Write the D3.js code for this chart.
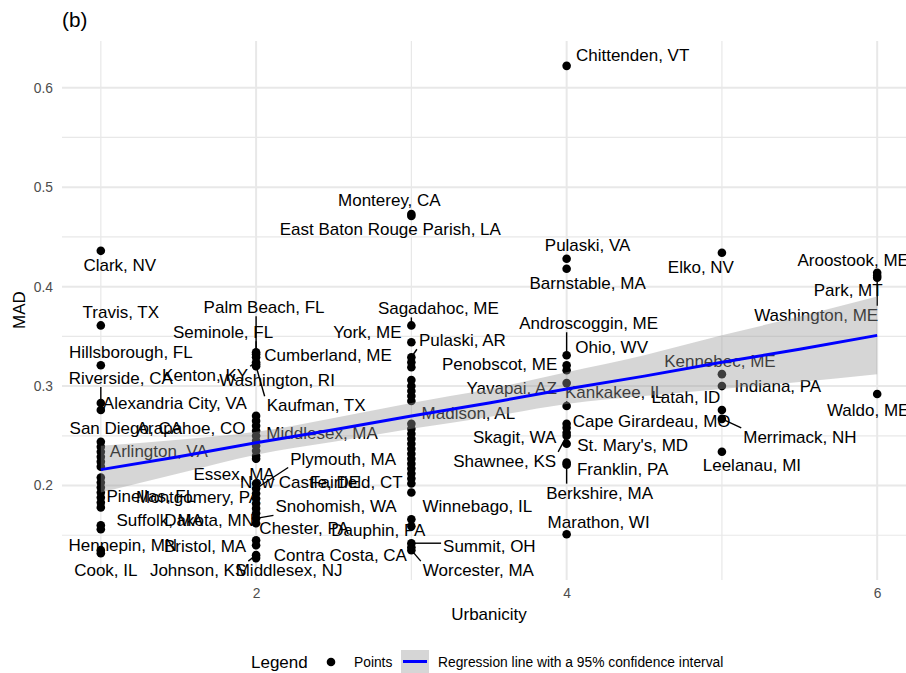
<!DOCTYPE html>
<html>
<head>
<meta charset="utf-8">
<script src="https://cdn.jsdelivr.net/npm/d3@7"></script>
<style>
  body { margin: 0; background: #fff; }
  svg { display: block; font-family: "Liberation Sans", Arial, Helvetica, sans-serif; }
</style>
</head>
<body>
<div id="chart"></div>
<script>
const width = 906;
const height = 673;

// County names ("" = point without a label), urbanicity and MAD values
const county = [
  // urbanicity 1
  "Clark, NV", "Travis, TX", "Hillsborough, FL", "Riverside, CA", "Alexandria City, VA",
  "San Diego, CA", "", "", "Arlington, VA", "", "", "", "", "", "Pinellas, FL", "", "",
  "Suffolk, MA", "", "", "Hennepin, MN", "Cook, IL",
  // urbanicity 2
  "Palm Beach, FL", "Seminole, FL", "Cumberland, ME", "Kenton, KY", "Washington, RI", "Kaufman, TX",
  "", "", "", "Arapahoe, CO", "Middlesex, MA", "", "", "", "", "",
  "Essex, MA", "Plymouth, MA", "Montgomery, PA", "", "", "New Castle, DE", "Dakota, MN",
  "Snohomish, WA", "Chester, PA", "", "Bristol, MA", "Johnson, KS", "Middlesex, NJ",
  // urbanicity 3
  "Monterey, CA", "East Baton Rouge Parish, LA", "Sagadahoc, ME", "York, ME", "Pulaski, AR",
  "", "", "", "", "", "", "", "", "Madison, AL", "", "", "", "", "", "", "", "", "", "",
  "Fairfield, CT", "Winnebago, IL", "Dauphin, PA", "", "Summit, OH", "Contra Costa, CA", "Worcester, MA",
  // urbanicity 4
  "Chittenden, VT", "Pulaski, VA", "Barnstable, MA", "Androscoggin, ME", "Ohio, WV", "Penobscot, ME",
  "Yavapai, AZ", "Kankakee, IL", "Cape Girardeau, MO", "", "Skagit, WA", "Shawnee, KS",
  "St. Mary's, MD", "Franklin, PA", "Berkshire, MA", "Marathon, WI",
  // urbanicity 5
  "Elko, NV", "Kennebec, ME", "Indiana, PA", "Latah, ID", "Merrimack, NH", "Leelanau, MI",
  // urbanicity 6
  "Aroostook, ME", "Park, MT", "Washington, ME", "Waldo, ME"
];

const urbanicity = [
  1, 1, 1, 1, 1, 1, 1, 1, 1, 1, 1, 1, 1, 1, 1, 1, 1, 1, 1, 1, 1, 1,
  2, 2, 2, 2, 2, 2, 2, 2, 2, 2, 2, 2, 2, 2, 2, 2, 2, 2, 2, 2, 2, 2, 2, 2, 2, 2, 2, 2, 2,
  3, 3, 3, 3, 3, 3, 3, 3, 3, 3, 3, 3, 3, 3, 3, 3, 3, 3, 3, 3, 3, 3, 3, 3, 3, 3, 3, 3, 3, 3, 3,
  4, 4, 4, 4, 4, 4, 4, 4, 4, 4, 4, 4, 4, 4, 4, 4,
  5, 5, 5, 5, 5, 5,
  6, 6, 6, 6
];

const mad = [
  0.436, 0.361, 0.321, 0.283, 0.276, 0.244, 0.239, 0.234, 0.229, 0.224, 0.219, 0.208, 0.203,
  0.198, 0.193, 0.188, 0.183, 0.178, 0.160, 0.156, 0.135, 0.132,
  0.334, 0.332, 0.329, 0.324, 0.322, 0.320, 0.270, 0.265, 0.260, 0.255, 0.250, 0.245, 0.240,
  0.235, 0.230, 0.227, 0.202, 0.197, 0.192, 0.187, 0.182, 0.177, 0.172, 0.167, 0.162, 0.145,
  0.140, 0.130, 0.127,
  0.473, 0.471, 0.361, 0.344, 0.329, 0.324, 0.319, 0.306, 0.300, 0.295, 0.290, 0.285, 0.262,
  0.257, 0.252, 0.247, 0.242, 0.237, 0.232, 0.227, 0.222, 0.217, 0.212, 0.207, 0.202, 0.193,
  0.166, 0.159, 0.142, 0.138, 0.135,
  0.622, 0.428, 0.418, 0.331, 0.321, 0.316, 0.303, 0.280, 0.262, 0.258, 0.253, 0.250, 0.242,
  0.223, 0.221, 0.151,
  0.434, 0.312, 0.300, 0.276, 0.267, 0.234,
  0.414, 0.411, 0.409, 0.292
];

// Linear fit with 95% confidence band
const fitX = [1, 1.5, 2, 2.5, 3, 3.5, 4, 4.5, 5, 5.5, 6];
const fitY = [0.216, 0.229, 0.243, 0.256, 0.270, 0.283, 0.297, 0.310, 0.324, 0.337, 0.351];
const fitLo = [0.193, 0.212, 0.231, 0.244, 0.257, 0.269, 0.282, 0.290, 0.297, 0.304, 0.312];
const fitHi = [0.240, 0.246, 0.254, 0.268, 0.283, 0.297, 0.314, 0.331, 0.351, 0.370, 0.390];

const xTicks = [2, 4, 6];
const yTicks = [0.2, 0.3, 0.4, 0.5, 0.6];
const xMinor = [1, 3, 5];
const yMinor = [0.15, 0.25, 0.35, 0.45, 0.55];

// label placement (pixel offset of the label centre from its point, draw segment?)
const labelNudge = new Map([
  ["Clark, NV", [19, 14, 0]], ["Travis, TX", [20, -13, 0]], ["Hillsborough, FL", [30, -13, 0]],
  ["Riverside, CA", [20, -25, 1]], ["Alexandria City, VA", [74, -7, 0]], ["San Diego, CA", [25, -14, 0]],
  ["Arlington, VA", [58, -6, 0]], ["Pinellas, FL", [50, 4, 0]], ["Suffolk, MA", [59, 13, 0]],
  ["Hennepin, MN", [22, -5, 0]], ["Cook, IL", [5, 17, 0]],
  ["Palm Beach, FL", [8, -45, 1]], ["Seminole, FL", [-33, -22, 1]], ["Cumberland, ME", [72, -2, 0]],
  ["Kenton, KY", [-51, 13, 1]], ["Washington, RI", [21, 16, 0]], ["Kaufman, TX", [60, 39, 1]],
  ["Arapahoe, CO", [-65, -3, 0]], ["Middlesex, MA", [66, -3, 0]], ["Essex, MA", [-22, -10, 0]],
  ["Plymouth, MA", [87, -30, 1]], ["Montgomery, PA", [-58, 4, 0]], ["New Castle, DE", [44, -26, 1]],
  ["Dakota, MN", [-47, 7, 0]], ["Snohomish, WA", [80, -12, 1]], ["Chester, PA", [48, 5, 0]],
  ["Bristol, MA", [-51, 1, 0]], ["Johnson, KS", [-58, 15, 1]], ["Middlesex, NJ", [33, 12, 0]],
  ["Monterey, CA", [-22, -14, 0]], ["East Baton Rouge Parish, LA", [-21, 13, 0]],
  ["Sagadahoc, ME", [27, -17, 1]], ["York, ME", [-44, -10, 0]], ["Pulaski, AR", [51, -17, 1]],
  ["Madison, AL", [57, -16, 0]], ["Fairfield, CT", [-55, -2, 0]], ["Winnebago, IL", [66, 14, 0]],
  ["Dauphin, PA", [-33, 11, 0]], ["Summit, OH", [78, 3, 1]], ["Contra Costa, CA", [-71, 8, 0]],
  ["Worcester, MA", [67, 20, 1]],
  ["Chittenden, VT", [66, -11, 0]], ["Pulaski, VA", [21, -14, 0]], ["Barnstable, MA", [21, 14, 0]],
  ["Androscoggin, ME", [22, -32, 1]], ["Ohio, WV", [45, -18, 0]], ["Penobscot, ME", [-67, -6, 0]],
  ["Yavapai, AZ", [-55, 5, 0]], ["Kankakee, IL", [48, -14, 1]], ["Cape Girardeau, MO", [85, -3, 0]],
  ["Skagit, WA", [-52, 4, 0]], ["Shawnee, KS", [-62, 25, 1]], ["St. Mary's, MD", [66, 1, 0]],
  ["Franklin, PA", [56, 6, 0]], ["Berkshire, MA", [33, 28, 1]], ["Marathon, WI", [32, -12, 0]],
  ["Elko, NV", [-21, 14, 0]], ["Kennebec, ME", [-2, -13, 0]], ["Indiana, PA", [56, 0, 0]],
  ["Latah, ID", [-36, -13, 0]], ["Merrimack, NH", [78, 18, 1]], ["Leelanau, MI", [30, 13, 0]],
  ["Aroostook, ME", [-24, -13, 0]], ["Park, MT", [-29, 14, 0]], ["Washington, ME", [-61, 37, 1]],
  ["Waldo, ME", [-9, 16, 0]]
]);

const points = county.map((name, i) => ({ name, u: urbanicity[i], v: mad[i] }));

const x = d3.scaleLinear().domain([0.75, 6.25]).range([62, 916]);
const y = d3.scaleLinear().domain([0.105, 0.647]).range([580, 41]);

const svg = d3.select("#chart").append("svg").attr("width", width).attr("height", height);

// grid
const grid = svg.append("g").attr("stroke", "#e8e8e8");
grid.selectAll(".ymin").data(yMinor).enter().append("line")
  .attr("x1", 62).attr("x2", 916).attr("y1", d => y(d)).attr("y2", d => y(d)).attr("stroke-width", 1.2);
grid.selectAll(".xmin").data(xMinor).enter().append("line")
  .attr("y1", 41).attr("y2", 580).attr("x1", d => x(d)).attr("x2", d => x(d)).attr("stroke-width", 1.2);
grid.selectAll(".ymaj").data(yTicks).enter().append("line")
  .attr("x1", 62).attr("x2", 916).attr("y1", d => y(d)).attr("y2", d => y(d)).attr("stroke-width", 2);
grid.selectAll(".xmaj").data(xTicks).enter().append("line")
  .attr("y1", 41).attr("y2", 580).attr("x1", d => x(d)).attr("x2", d => x(d)).attr("stroke-width", 2);

// axes (labels only)
const yAxis = svg.append("g").attr("transform", "translate(62,0)")
  .call(d3.axisLeft(y).tickValues(yTicks).tickSize(0).tickPadding(9).tickFormat(d3.format(".1f")));
const xAxis = svg.append("g").attr("transform", "translate(0,580)")
  .call(d3.axisBottom(x).tickValues(xTicks).tickSize(0).tickPadding(8).tickFormat(d3.format("d")));
[yAxis, xAxis].forEach(g => {
  g.select(".domain").remove();
  g.selectAll("text").attr("fill", "#4d4d4d").style("font-size", "13.8px")
    .style("font-family", "'Liberation Sans', Arial, sans-serif");
});

// points
svg.append("g").selectAll("circle").data(points).enter().append("circle")
  .attr("cx", d => x(d.u)).attr("cy", d => y(d.v)).attr("r", 4.3).attr("fill", "#000");

// labels with repel-style segments
const labelG = svg.append("g");
points.filter(d => d.name).forEach(d => {
  const [dx, dy, seg] = labelNudge.get(d.name);
  const px = x(d.u), py = y(d.v);
  const cx = px + dx, cy = py + dy;
  const t = labelG.append("text")
    .attr("x", cx).attr("y", cy + 6)
    .attr("text-anchor", "middle")
    .style("font-size", "17px")
    .attr("fill", "#000")
    .text(d.name);
  if (seg) {
    const w = t.node().getComputedTextLength();
    const bx = Math.max(cx - w / 2 - 2, Math.min(px, cx + w / 2 + 2));
    const by = Math.max(cy - 9, Math.min(py, cy + 9));
    labelG.append("line")
      .attr("x1", px).attr("y1", py).attr("x2", bx).attr("y2", by)
      .attr("stroke", "#000").attr("stroke-width", 1.4);
  }
});

// regression ribbon and line
const fit = fitX.map((d, i) => ({ u: d, v: fitY[i], lo: fitLo[i], hi: fitHi[i] }));
svg.append("path").datum(fit)
  .attr("d", d3.area().x(d => x(d.u)).y0(d => y(d.lo)).y1(d => y(d.hi)).curve(d3.curveMonotoneX))
  .attr("fill", "#999999").attr("fill-opacity", 0.4);
svg.append("path").datum(fit)
  .attr("d", d3.line().x(d => x(d.u)).y(d => y(d.v)))
  .attr("fill", "none").attr("stroke", "#0000ff").attr("stroke-width", 3);

// titles
svg.append("text").attr("x", 62).attr("y", 27).style("font-size", "20.7px").text("(b)");
svg.append("text").attr("x", 489).attr("y", 620).attr("text-anchor", "middle")
  .style("font-size", "17px").text("Urbanicity");
svg.append("text").attr("transform", "translate(25,310) rotate(-90)").attr("text-anchor", "middle")
  .style("font-size", "17px").text("MAD");

// legend
const legend = svg.append("g");
legend.append("text").attr("x", 251).attr("y", 668).style("font-size", "17px").text("Legend");
legend.append("circle").attr("cx", 331).attr("cy", 662).attr("r", 4.3).attr("fill", "#000");
legend.append("text").attr("x", 354).attr("y", 667).style("font-size", "13.8px").text("Points");
legend.append("rect").attr("x", 401).attr("y", 650).attr("width", 28).attr("height", 23)
  .attr("fill", "#999999").attr("fill-opacity", 0.4);
legend.append("line").attr("x1", 403).attr("x2", 427).attr("y1", 661.5).attr("y2", 661.5)
  .attr("stroke", "#0000ff").attr("stroke-width", 3);
legend.append("text").attr("x", 438).attr("y", 667).style("font-size", "13.8px")
  .text("Regression line with a 95% confidence interval");
</script>
</body>
</html>
